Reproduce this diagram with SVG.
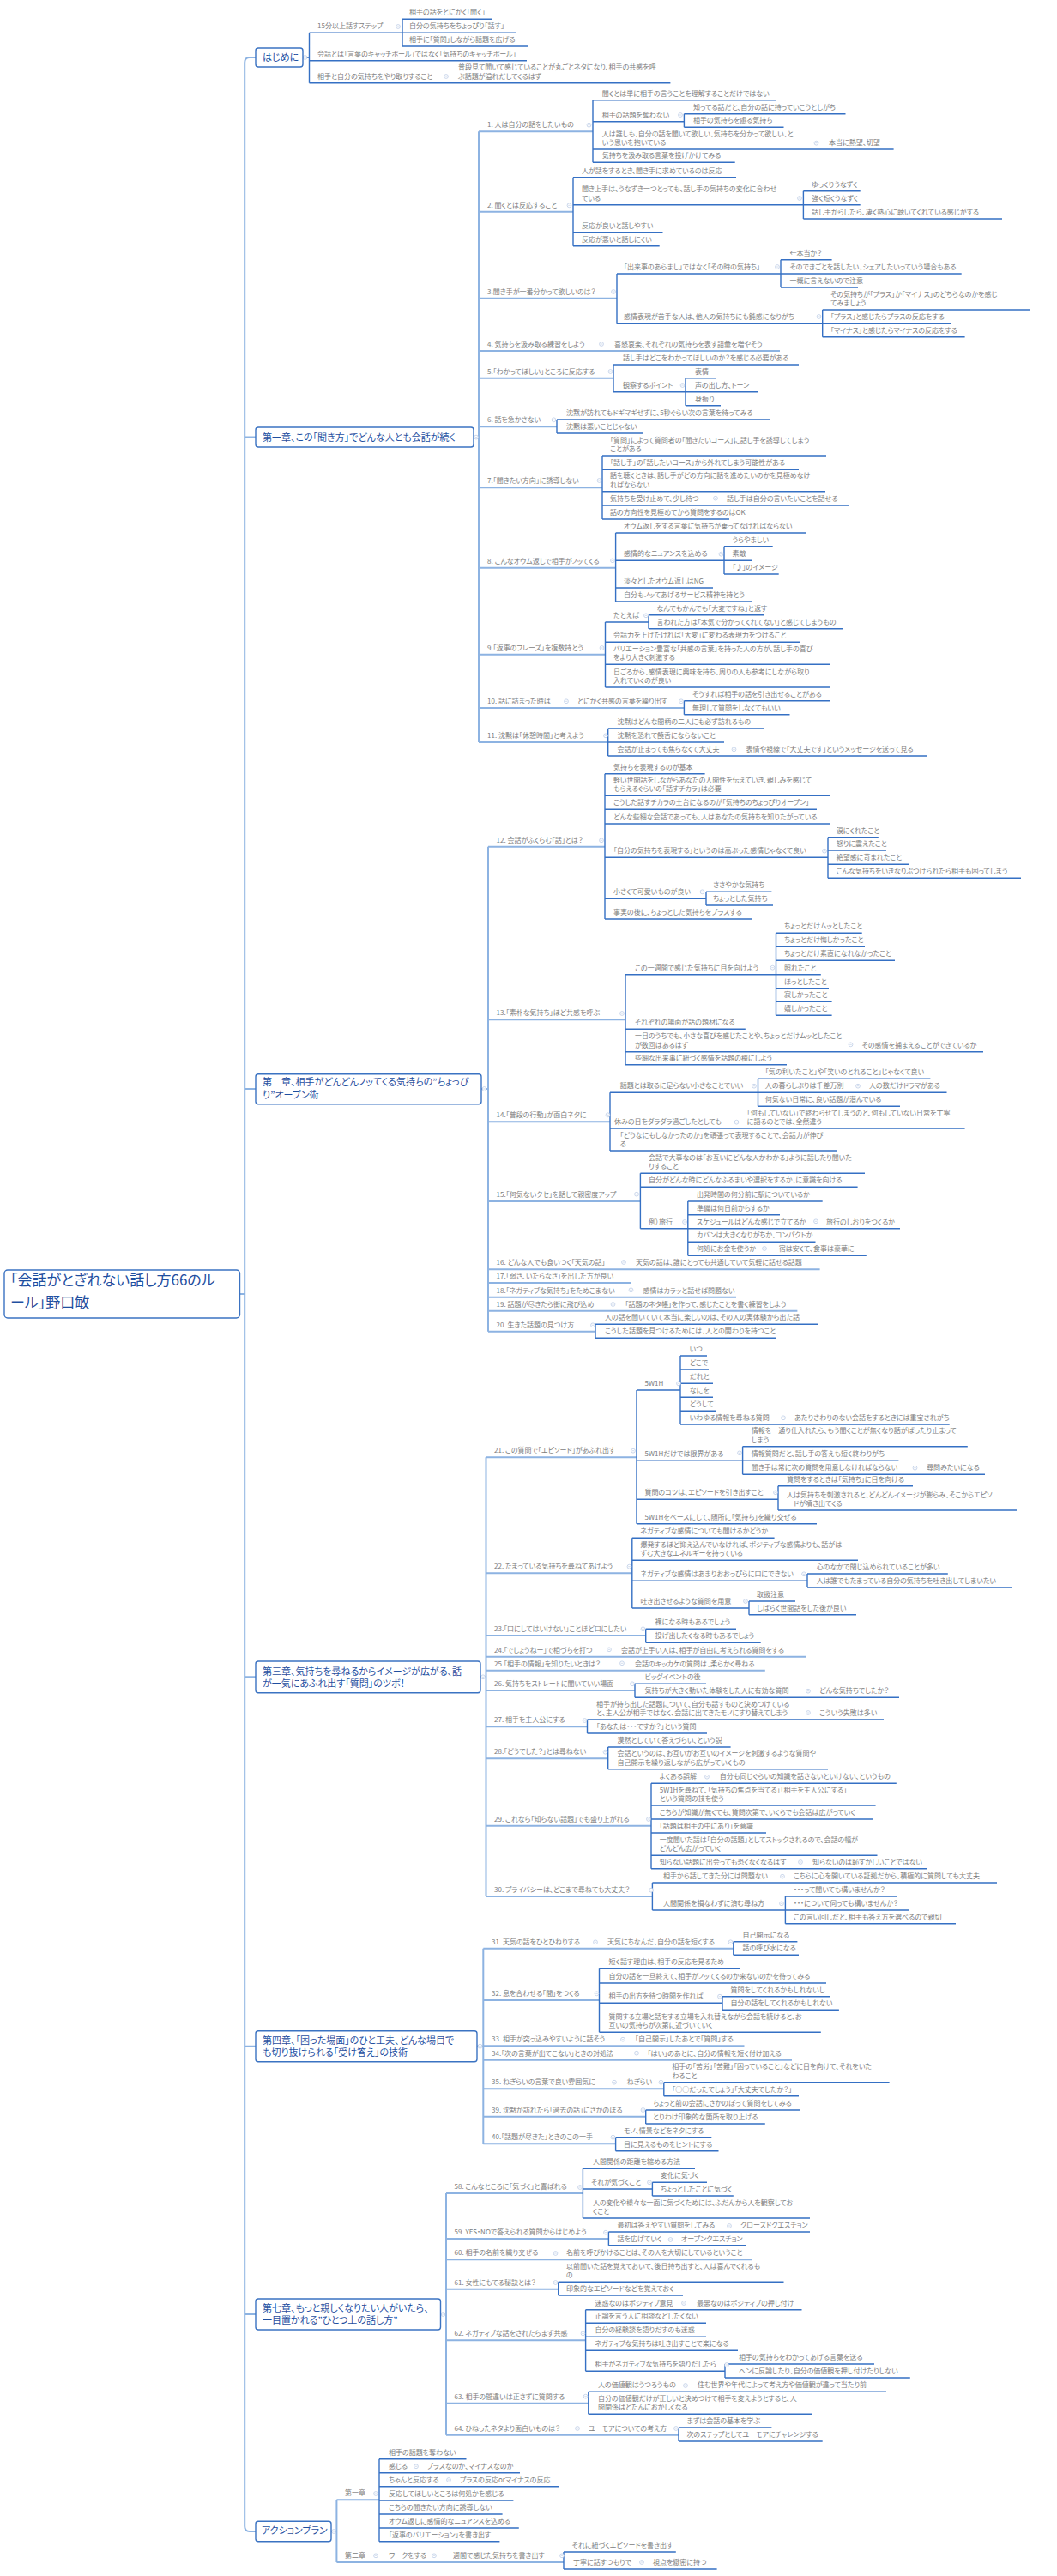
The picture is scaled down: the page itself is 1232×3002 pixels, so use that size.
<svg xmlns="http://www.w3.org/2000/svg" xmlns:xlink="http://www.w3.org/1999/xlink" width="1232" height="3002" viewBox="0 0 1232 3002">
<style>
text{font-family:"Noto Sans CJK JP","Noto Sans",sans-serif;font-feature-settings:"palt" 1}
.t{font-size:8px;fill:#7d7d7d}
.c{font-size:11px;fill:#1f4f9f}
.r{font-size:17px;fill:#1f4f9f}
.bx{fill:#fff;stroke:#3b73c2;stroke-width:1.4}
.l1{fill:none;stroke:#8db3e2;stroke-width:2}
.l2{fill:none;stroke:#3570c4;stroke-width:1.4}
</style>
<defs>
<g id="m"><circle r="2.4" fill="#fff" stroke="#b4c6e2" stroke-width="0.7"/><path d="M-1.3,0H1.3" stroke="#b4c6e2" stroke-width="0.6"/></g>
</defs>
<rect width="1232" height="3002" fill="#fff"/>
<g id="connectors">
<path class="l1" d="M298,67H291Q285.2,67 285.2,73V2944Q285.2,2950 291,2950H298M285.2,509.6H298M285.2,1269H298M279.5,1508H285.2M285.2,1954.3H298M285.2,2384.7H298M285.2,2697H298
M552,509.6H558M558,153.3V865M558,153.3H691M558,246.7H668M558,347.7H719M558,409H909M558,440.7H715M558,497.3H649M558,568.3H702M558,661.7H717.6M558,762.7H705.5M558,825H797.4M558,865H708.7
M561,1269H569M569,986.7V1551.7M569,986.7H705M569,1188.3H729M569,1307.3H711M569,1400H746.4M569,1479.3H955.6M569,1495H735M569,1511.7H858M569,1527.7H929.4M569,1551.7H694
M560,1954.3H566.5M566.5,1698.3V2210M566.5,1698.3H742M566.5,1833.3H736.8M566.5,1906H752.7M566.5,1930.7H939M566.5,1946.7H891.8M566.5,1970H740M566.5,2012.3H684.5M566.5,2049.3H708.7M566.5,2127.7H759M566.5,2210H760.4
M556,2384.7H563.3M563.3,2270.7V2498.3M563.3,2270.7H854.8M563.3,2331H698.5M563.3,2384.3H867.5M563.3,2400.7H923M563.3,2434.3H773.8M563.3,2466.7H752.7M563.3,2498.3H717.6
M513.5,2697H520M520,2556V2837.7M520,2556H679.4M520,2609H709.4M520,2633.3H876M520,2667.7H650.7M520,2727.3H682.6M520,2800.7H685.8M520,2837.7H791
M386,2950H392.4M392.4,2913.3V2986M392.4,2913.3H442M392.4,2986H657"/>
<path class="l2" d="M352.8,67H360.5M360.5,38.3V96.7M360.5,38.3H469M469,22.3V54M469,22.3H574M469,38.3H601.6M469,54H615.6M360.5,70.7H614M360.5,96.7H781.4
M691,116.7V189.3M691,116.7H904.5M691,141.7H797.4M797.4,132.7V148.3M797.4,132.7H985.5M797.4,148.3H913.5M691,174H1041.6M691,189.3H856.7
M668,206.7V286.7M668,206.7H858M668,238.7H936.4M936.4,222.7V255M936.4,222.7H1002.7M936.4,238.7H1002.7M936.4,255H1168M668,270.7H772.5M668,286.7H768.7
M719,319V376.7M719,319H910M910,302.7V335M910,302.7H969.6M910,319H1120.7M910,335H1000M719,376.7H958.7M958.7,361V392.7M958.7,361H1200M958.7,376.7H1108.6M958.7,392.7H1124.6
M715,425V456.7M715,425H931M715,456.7H799M799,440.7V472.7M799,440.7H834.4M799,456.7H883.5M799,472.7H840
M649,489V505M649,489H897.5M649,505H749.5
M702,531V605M702,531H963M702,547.3H931M702,572.7H962M702,589H989.4M702,605H850
M717.6,621V701M717.6,621H939M717.6,653.3H844M844,636.7V669M844,636.7H900.7M844,653.3H877M844,669H907.7M717.6,685H831M717.6,701H876
M705.5,725V801M705.5,725H756M756,716.7V732.7M756,716.7H890M756,732.7H982M705.5,748.3H933M705.5,774.3H968M705.5,801H968
M797.4,816.7V832.7M797.4,816.7H968M797.4,832.7H920.5
M708.7,849V881M708.7,849H891M708.7,865H844M708.7,881H1081
M705,901.7V1071M705,901.7H821.6M705,927.3H968M705,943.3H952M705,960H968M705,999.3H965M965,975.7V1023.3M965,975.7H1023.8M965,991H1033M965,1007.3H1059M965,1023.3H1190M705,1047.3H823M823,1039.3V1055M823,1039.3H899.4M823,1055H901M705,1071H877
M729,1135.7V1240.7M729,1135.7H904.5M904.5,1087.3V1183.3M904.5,1087.3H1004.7M904.5,1103.3H1008M904.5,1119.3H1043M904.5,1135.7H956.8M904.5,1151.7H966M904.5,1167.3H969.6M904.5,1183.3H969.6M729,1199.3H868.8M729,1225.7H1146M729,1240.7H917
M711,1273.3V1341M711,1273.3H883.5M883.5,1257.3V1289.3M883.5,1257.3H1084.4M883.5,1273.3H1103.5M883.5,1289.3H1049M711,1315H1124.6M711,1341H976
M746.4,1367.3V1431.7M746.4,1367.3H1008M746.4,1383.3H999.6M746.4,1431.7H801.8M801.8,1400V1463.3M801.8,1400H958.7M801.8,1415.7H909M801.8,1431.7H1049M801.8,1447.3H950.5M801.8,1463.3H1009.8
M694,1543.3V1559.3M694,1543.3H953.6M694,1559.3H904.5
M742,1620V1775.7M742,1620H793M793,1580V1660M793,1580H824M793,1596H826M793,1612.3H831M793,1628.3H831M793,1644.3H834.4M793,1660H1106.7M742,1701.7H865.6M865.6,1685.7V1718.3M865.6,1685.7H1127.8M865.6,1701.7H1047.4M865.6,1718.3H1148M742,1747.3H907M907,1731.7V1760M907,1731.7H1064M907,1760H1185M742,1775.7H952
M736.8,1792.3V1874M736.8,1792.3H902.6M736.8,1818.3H1000M736.8,1842.3H941M941,1834V1850M941,1834H1104.8M941,1850H1180M736.8,1874H873M873,1866V1881.7M873,1866H927M873,1881.7H998
M752.7,1898.3V1914.3M752.7,1898.3H858M752.7,1914.3H886.7
M740,1962.3V1978.3M740,1962.3H823M740,1978.3H1048
M684.5,2004V2020M684.5,2004H1030M684.5,2020H824
M708.7,2036V2061.7M708.7,2036H851.6M708.7,2061.7H965
M759,2078.3V2177.7M759,2078.3H1044.8M759,2104H1020.6M759,2120H1017.4M759,2136H893M759,2162.3H1022.5M759,2177.7H1081
M760.4,2194V2226M760.4,2194H1162M760.4,2226H915.4M915.4,2210V2241.7M915.4,2210H1046M915.4,2226H1059M915.4,2241.7H1114
M854.8,2262.7V2278.3M854.8,2262.7H929.4M854.8,2278.3H931
M698.5,2294.3V2368.3M698.5,2294.3H862.4M698.5,2311H963M698.5,2334.3H842M842,2326.7V2342.3M842,2326.7H968M842,2342.3H977.9M698.5,2368.3H956.8
M773.8,2426.7V2442.7M773.8,2426.7H1036.6M773.8,2442.7H931
M752.7,2459V2475M752.7,2459H933M752.7,2475H891.8
M717.6,2490.7V2506.7M717.6,2490.7H829.3M717.6,2506.7H837.5
M679.4,2527.3V2585M679.4,2527.3H810M679.4,2551H760.4M760.4,2543.3V2559M760.4,2543.3H824M760.4,2559H854.8M679.4,2585H944
M709.4,2601V2616.7M709.4,2601H944M709.4,2616.7H869.5
M650.7,2659.3V2675M650.7,2659.3H913.5M650.7,2675H796
M682.6,2691.7V2763.3M682.6,2691.7H934.5M682.6,2707.3H823M682.6,2723.3H823M682.6,2739.3H860M682.6,2763.3H845M845,2755V2771M845,2755H1019M845,2771H1060.8
M685.8,2787.3V2813.3M685.8,2787.3H1033M685.8,2813.3H946
M791,2829V2845M791,2829H899.4M791,2845H958.7
M442,2865.7V2961.7M442,2865.7H543.5M442,2881.7H606M442,2897.7H652M442,2914H598.4M442,2930H585.6M442,2946H604.8M442,2961.7H582.4
M657,2974V2994M657,2974H787.8M657,2994H835.6"/>
</g>
<g id="markers">
<use href="#m" x="355.5" y="67"/><use href="#m" x="464" y="31"/><use href="#m" x="520" y="89"/>
<use href="#m" x="555" y="509.6"/><use href="#m" x="686.5" y="145.7"/><use href="#m" x="793" y="134"/><use href="#m" x="951.5" y="166.7"/><use href="#m" x="663.5" y="239.3"/><use href="#m" x="932" y="231"/><use href="#m" x="715" y="340"/><use href="#m" x="906" y="311"/><use href="#m" x="954.5" y="369"/><use href="#m" x="701" y="401"/><use href="#m" x="711.5" y="433"/><use href="#m" x="795.5" y="449"/><use href="#m" x="645.5" y="489.3"/><use href="#m" x="698.5" y="560"/><use href="#m" x="834" y="580.7"/><use href="#m" x="714" y="653.3"/><use href="#m" x="840.5" y="645.7"/><use href="#m" x="701.5" y="755"/><use href="#m" x="753" y="717.3"/><use href="#m" x="660" y="817.3"/><use href="#m" x="794" y="817.3"/><use href="#m" x="706" y="857.3"/><use href="#m" x="855.5" y="873.3"/>
<use href="#m" x="564.5" y="1269"/><use href="#m" x="701" y="979.3"/><use href="#m" x="961" y="991.7"/><use href="#m" x="818.5" y="1039.3"/><use href="#m" x="725" y="1181"/><use href="#m" x="900.5" y="1127.7"/><use href="#m" x="991.5" y="1217.3"/><use href="#m" x="708.5" y="1299.3"/><use href="#m" x="879" y="1265.7"/><use href="#m" x="1000" y="1265.7"/><use href="#m" x="858.5" y="1307.7"/><use href="#m" x="742" y="1391.7"/><use href="#m" x="798" y="1424"/><use href="#m" x="951" y="1423.3"/><use href="#m" x="891" y="1455"/><use href="#m" x="727" y="1471"/><use href="#m" x="735.5" y="1503.3"/><use href="#m" x="714.5" y="1520"/><use href="#m" x="691" y="1544.3"/>
<use href="#m" x="563" y="1954.3"/><use href="#m" x="738" y="1690.7"/><use href="#m" x="791" y="1612.3"/><use href="#m" x="913" y="1652.3"/><use href="#m" x="862" y="1693.3"/><use href="#m" x="1066.5" y="1710.7"/><use href="#m" x="904" y="1739.3"/><use href="#m" x="733.5" y="1825.7"/><use href="#m" x="937" y="1834.3"/><use href="#m" x="869" y="1866"/><use href="#m" x="749.5" y="1898.3"/><use href="#m" x="710" y="1922.3"/><use href="#m" x="725" y="1938.3"/><use href="#m" x="737" y="1962.3"/><use href="#m" x="942" y="1970.7"/><use href="#m" x="681.5" y="2005"/><use href="#m" x="942" y="1996"/><use href="#m" x="705.5" y="2041.7"/><use href="#m" x="756" y="2120"/><use href="#m" x="824" y="2070.7"/><use href="#m" x="933" y="2170"/><use href="#m" x="759" y="2202.7"/><use href="#m" x="912" y="2186.7"/><use href="#m" x="911" y="2218.3"/>
<use href="#m" x="559.5" y="2384.7"/><use href="#m" x="694" y="2263.3"/><use href="#m" x="851.5" y="2263.3"/><use href="#m" x="695.5" y="2323.3"/><use href="#m" x="839" y="2326.7"/><use href="#m" x="726" y="2376.7"/><use href="#m" x="742" y="2392.7"/><use href="#m" x="716" y="2426.7"/><use href="#m" x="770.5" y="2426.7"/><use href="#m" x="749.5" y="2459"/><use href="#m" x="714.5" y="2490.7"/>
<use href="#m" x="516.5" y="2697"/><use href="#m" x="676" y="2549"/><use href="#m" x="757" y="2543.3"/><use href="#m" x="706" y="2601.7"/><use href="#m" x="850" y="2594"/><use href="#m" x="781.5" y="2610"/><use href="#m" x="647.5" y="2626"/><use href="#m" x="647.5" y="2660"/><use href="#m" x="679.5" y="2719.3"/><use href="#m" x="797" y="2684"/><use href="#m" x="847" y="2756"/><use href="#m" x="682.6" y="2792.7"/><use href="#m" x="799" y="2780"/><use href="#m" x="673" y="2830"/><use href="#m" x="788" y="2830"/>
<use href="#m" x="389" y="2950"/><use href="#m" x="438" y="2906"/><use href="#m" x="485" y="2874.3"/><use href="#m" x="523" y="2890"/><use href="#m" x="438" y="2978.3"/><use href="#m" x="506" y="2978.3"/><use href="#m" x="655" y="2978.3"/><use href="#m" x="748" y="2986"/>
</g>
<g id="root"><rect class="bx" x="5" y="1480" width="274.5" height="56" rx="4"/><text class="r" x="12" y="1497.7">「会話がとぎれない話し方66のル</text><text class="r" x="12" y="1524.3">ール」野口敏</text></g>
<g id="ch0"><rect class="bx" x="298" y="56" width="55" height="22" rx="3"/><text class="c" x="306" y="71">はじめに</text></g>
<g id="ch1"><rect class="bx" x="298" y="498" width="254" height="23" rx="3"/><text class="c" x="306" y="513.6">第一章、この「聞き方」でどんな人とも会話が続く</text></g>
<g id="ch2"><rect class="bx" x="298" y="1251.7" width="263" height="35" rx="3"/><text class="c" x="306" y="1265">第二章、相手がどんどんノッてくる気持ちの”ちょっぴ</text><text class="c" x="306" y="1279.7">り”オープン術</text></g>
<g id="ch3"><rect class="bx" x="298" y="1936" width="262" height="36.7" rx="3"/><text class="c" x="306" y="1951.7">第三章、気持ちを尋ねるからイメージが広がる、話</text><text class="c" x="306" y="1966.3">が一気にあふれ出す「質問」のツボ！</text></g>
<g id="ch4"><rect class="bx" x="298" y="2366.7" width="258" height="36" rx="3"/><text class="c" x="306" y="2381.7">第四章、「困った場面」のひと工夫、どんな場目で</text><text class="c" x="306" y="2396.3">も切り抜けられる「受け答え」の技術</text></g>
<g id="ch7"><rect class="bx" x="298" y="2679" width="215.5" height="36" rx="3"/><text class="c" x="306" y="2694">第七章、もっと親しくなりたい人がいたら、</text><text class="c" x="306" y="2708.3">一目置かれる”ひとつ上の話し方”</text></g>
<g id="ch8"><rect class="bx" x="298" y="2938.3" width="88" height="23.4" rx="3"/><text class="c" x="305" y="2953.3">アクションプラン</text></g>
<g class="t">
<g id="h1"><text x="370" y="33.3">15分以上話すステップ</text></g>
<g id="h1a"><text x="477" y="17.3">相手の話をとにかく「聞く」</text></g>
<g id="h1b"><text x="477" y="33.3">自分の気持ちをちょっぴり「話す」</text></g>
<g id="h1c"><text x="477" y="49">相手に「質問」しながら話題を広げる</text></g>
<g id="h2"><text x="370" y="65.7">会話とは「言葉のキャッチボール」ではなく「気持ちのキャッチボール」</text></g>
<g id="h3"><text x="370" y="91.7">相手と自分の気持ちをやり取りすること</text></g>
<g id="h3a"><text x="534" y="81.4">普段見て聞いて感じていることが丸ごとネタになり、相手の共感を呼</text><text x="534" y="91.7">ぶ話題が溢れだしてくるはず</text></g>
<g id="a1"><text x="568" y="148.3">1. 人は自分の話をしたいもの</text></g>
<g id="a1a"><text x="701.7" y="111.7">聞くとは単に相手の言うことを理解することだけではない</text></g>
<g id="a1b"><text x="701.7" y="136.7">相手の話題を奪わない</text></g>
<g id="a1b1"><text x="808" y="127.7">知ってる話だと、自分の話に持っていこうとしがち</text></g>
<g id="a1b2"><text x="808" y="143.3">相手の気持ちを慮る気持ち</text></g>
<g id="a1c"><text x="701.7" y="158.7">人は誰しも、自分の話を聞いて欲しい、気持ちを分かって欲しい、と</text><text x="701.7" y="169">いう思いを抱いている</text></g>
<g id="a1c1"><text x="966" y="169">本当に熱望、切望</text></g>
<g id="a1d"><text x="701.7" y="184.3">気持ちを汲み取る言葉を投げかけてみる</text></g>
<g id="a2"><text x="568" y="241.7">2. 聞くとは反応すること</text></g>
<g id="a2a"><text x="678" y="201.7">人が話をするとき、聞き手に求めているのは反応</text></g>
<g id="a2b"><text x="678" y="223.4">聞き上手は、うなずき一つとっても、話し手の気持ちの変化に合わせ</text><text x="678" y="233.7">ている</text></g>
<g id="a2b1"><text x="946" y="217.7">ゆっくりうなずく</text></g>
<g id="a2b2"><text x="946" y="233.7">強く短くうなずく</text></g>
<g id="a2b3"><text x="946" y="250">話し手からしたら、凄く熱心に聴いてくれている感じがする</text></g>
<g id="a2c"><text x="678" y="265.7">反応が良いと話しやすい</text></g>
<g id="a2d"><text x="678" y="281.7">反応が悪いと話しにくい</text></g>
<g id="a3"><text x="568" y="342.7">3.聞き手が一番分かって欲しいのは？</text></g>
<g id="a3a"><text x="727" y="314">「出来事のあらまし」ではなく「その時の気持ち」</text></g>
<g id="a3a1"><text x="920.5" y="297.7">←本当か？</text></g>
<g id="a3a2"><text x="920.5" y="314">そのできごとを話したい、シェアしたいっていう場合もある</text></g>
<g id="a3a3"><text x="920.5" y="330">一概に言えないので注意</text></g>
<g id="a3b"><text x="727" y="371.7">感情表現が苦手な人は、他人の気持ちにも鈍感になりがち</text></g>
<g id="a3b1"><text x="968" y="345.7">その気持ちが「プラス」か「マイナス」のどちらなのかを感じ</text><text x="968" y="356">てみましょう</text></g>
<g id="a3b2"><text x="968" y="371.7">「プラス」と感じたらプラスの反応をする</text></g>
<g id="a3b3"><text x="968" y="387.7">「マイナス」と感じたらマイナスの反応をする</text></g>
<g id="a4"><text x="568" y="404">4. 気持ちを汲み取る練習をしよう</text></g>
<g id="a4a"><text x="716" y="404">喜怒哀楽、それぞれの気持ちを表す語彙を増やそう</text></g>
<g id="a5"><text x="568" y="435.7">5.「わかってほしい」ところに反応する</text></g>
<g id="a5a"><text x="726" y="420">話し手はどこをわかってほしいのか？を感じる必要がある</text></g>
<g id="a5b"><text x="726" y="451.7">観察するポイント</text></g>
<g id="a5b1"><text x="810" y="435.7">表情</text></g>
<g id="a5b2"><text x="810" y="451.7">声の出し方、トーン</text></g>
<g id="a5b3"><text x="810" y="467.7">身振り</text></g>
<g id="a6"><text x="568" y="492.3">6. 話を急かさない</text></g>
<g id="a6a"><text x="660" y="484">沈黙が訪れてもドギマギせずに、5秒ぐらい次の言葉を待ってみる</text></g>
<g id="a6b"><text x="660" y="500">沈黙は悪いことじゃない</text></g>
<g id="a7"><text x="568" y="563.3">7.「聞きたい方向」に誘導しない</text></g>
<g id="a7a"><text x="711" y="515.7">「質問」によって質問者の「聞きたいコース」に話し手を誘導してしまう</text><text x="711" y="526">ことがある</text></g>
<g id="a7b"><text x="711" y="542.3">「話し手」の「話したいコース」から外れてしまう可能性がある</text></g>
<g id="a7c"><text x="711" y="557.4">話を聴くときは、話し手がどの方向に話を進めたいのかを見極めなけ</text><text x="711" y="567.7">ればならない</text></g>
<g id="a7d"><text x="711" y="584">気持ちを受け止めて、少し待つ</text></g>
<g id="a7d1"><text x="847" y="584">話し手は自分の言いたいことを話せる</text></g>
<g id="a7e"><text x="711" y="600">話の方向性を見極めてから質問をするのはOK</text></g>
<g id="a8"><text x="568" y="656.7">8. こんなオウム返しで相手がノッてくる</text></g>
<g id="a8a"><text x="727" y="616">オウム返しをする言葉に気持ちが乗ってなければならない</text></g>
<g id="a8b"><text x="727" y="648.3">感情的なニュアンスを込める</text></g>
<g id="a8b1"><text x="853.5" y="631.7">うらやましい</text></g>
<g id="a8b2"><text x="853.5" y="648.3">素敵</text></g>
<g id="a8b3"><text x="853.5" y="664">「♪」のイメージ</text></g>
<g id="a8c"><text x="727" y="680">淡々としたオウム返しはNG</text></g>
<g id="a8d"><text x="727" y="696">自分もノッてあげるサービス精神を持とう</text></g>
<g id="a9"><text x="568" y="757.7">9.「返事のフレーズ」を複数持とう</text></g>
<g id="a9a"><text x="715" y="720">たとえば</text></g>
<g id="a9a1"><text x="765.5" y="711.7">なんでもかんでも「大変ですね」と返す</text></g>
<g id="a9a2"><text x="765.5" y="727.7">言われた方は「本気で分かってくれてない」と感じてしまうもの</text></g>
<g id="a9b"><text x="715" y="743.3">会話力を上げたければ「大変」に変わる表現力をつけること</text></g>
<g id="a9c"><text x="715" y="759">バリエーション豊富な「共感の言葉」を持った人の方が、話し手の喜び</text><text x="715" y="769.3">をより大きく刺激する</text></g>
<g id="a9d"><text x="715" y="785.7">日ごろから、感情表現に興味を持ち、周りの人も参考にしながら取り</text><text x="715" y="796">入れていくのが良い</text></g>
<g id="a10"><text x="568" y="820">10. 話に詰まった時は</text></g>
<g id="a10a"><text x="673" y="820">とにかく共感の言葉を繰り出す</text></g>
<g id="a10a1"><text x="807" y="811.7">そうすれば相手の話を引き出せることがある</text></g>
<g id="a10a2"><text x="807" y="827.7">無理して質問をしなくてもいい</text></g>
<g id="a11"><text x="568" y="860">11. 沈黙は「休憩時間」と考えよう</text></g>
<g id="a11a"><text x="719.6" y="844">沈黙はどんな間柄の二人にも必ず訪れるもの</text></g>
<g id="a11b"><text x="719.6" y="860">沈黙を恐れて饒舌にならないこと</text></g>
<g id="a11c"><text x="719.6" y="876">会話が止まっても焦らなくて大丈夫</text></g>
<g id="a11c1"><text x="869.5" y="876">表情や視線で「大丈夫です」というメッセージを送って見る</text></g>
<g id="b12"><text x="578.6" y="981.7">12. 会話がふくらむ「話」とは？</text></g>
<g id="b12a"><text x="715" y="896.7">気持ちを表現するのが基本</text></g>
<g id="b12b"><text x="715" y="912">軽い世間話をしながらあなたの人間性を伝えていき、親しみを感じて</text><text x="715" y="922.3">もらえるぐらいの「話すチカラ」は必要</text></g>
<g id="b12c"><text x="715" y="938.3">こうした話すチカラの土台になるのが「気持ちのちょっぴりオープン」</text></g>
<g id="b12d"><text x="715" y="955">どんな些細な会話であっても、人はあなたの気持ちを知りたがっている</text></g>
<g id="b12e"><text x="715" y="994.3">「自分の気持ちを表現する」というのは高ぶった感情じゃなくて良い</text></g>
<g id="b12e1"><text x="974.7" y="970.7">涙にくれたこと</text></g>
<g id="b12e2"><text x="974.7" y="986">怒りに震えたこと</text></g>
<g id="b12e3"><text x="974.7" y="1002.3">絶望感に苛まれたこと</text></g>
<g id="b12e4"><text x="974.7" y="1018.3">こんな気持ちをいきなりぶつけられたら相手も困ってしまう</text></g>
<g id="b12f"><text x="715" y="1042.3">小さくて可愛いものが良い</text></g>
<g id="b12f1"><text x="831" y="1034.3">ささやかな気持ち</text></g>
<g id="b12f2"><text x="831" y="1050">ちょっとした気持ち</text></g>
<g id="b12g"><text x="715" y="1066">事実の後に、ちょっとした気持ちをプラスする</text></g>
<g id="b13"><text x="578.6" y="1183.3">13.「素朴な気持ち」ほど共感を呼ぶ</text></g>
<g id="b13a"><text x="740" y="1130.7">この一週間で感じた気持ちに目を向けよう</text></g>
<g id="b13a1"><text x="914" y="1082.3">ちょっとだけムッとしたこと</text></g>
<g id="b13a2"><text x="914" y="1098.3">ちょっとだけ悔しかったこと</text></g>
<g id="b13a3"><text x="914" y="1114.3">ちょっとだけ素直になれなかったこと</text></g>
<g id="b13a4"><text x="914" y="1130.7">照れたこと</text></g>
<g id="b13a5"><text x="914" y="1146.7">ほっとしたこと</text></g>
<g id="b13a6"><text x="914" y="1162.3">寂しかったこと</text></g>
<g id="b13a7"><text x="914" y="1178.3">嬉しかったこと</text></g>
<g id="b13b"><text x="740" y="1194.3">それぞれの場面が話の題材になる</text></g>
<g id="b13c"><text x="740" y="1210.4">一日のうちでも、小さな喜びを感じたことや、ちょっとだけムッとしたこと</text><text x="740" y="1220.7">が数回はあるはず</text></g>
<g id="b13c1"><text x="1004.6" y="1220.7">その感情を捕まえることができているか</text></g>
<g id="b13d"><text x="740" y="1235.7">些細な出来事に紐づく感情を話題の種にしよう</text></g>
<g id="b14"><text x="578.6" y="1302.3">14.「普段の行動」が面白ネタに</text></g>
<g id="b14a"><text x="722.7" y="1268.3">話題とは取るに足らない小さなことでいい</text></g>
<g id="b14a1"><text x="891.8" y="1252.3">「気の利いたこと」や「笑いのとれること」じゃなくて良い</text></g>
<g id="b14a2"><text x="891.8" y="1268.3">人の暮らしぶりは千差万別</text></g>
<g id="b14a2a"><text x="1013" y="1268.3">人の数だけドラマがある</text></g>
<g id="b14a3"><text x="891.8" y="1284.3">何気ない日常に、良い話題が潜んでいる</text></g>
<g id="b14b"><text x="716" y="1310">休みの日をダラダラ過ごしたとしても</text></g>
<g id="b14b1"><text x="870.7" y="1299.7">「何もしていない」で終わらせてしまうのと、何もしていない日常を丁寧</text><text x="870.7" y="1310">に語るのとでは、全然違う</text></g>
<g id="b14c"><text x="722.7" y="1325.7">「どうなにもしなかったのか」を頑張って表現することで、会話力が伸び</text><text x="722.7" y="1336">る</text></g>
<g id="b15"><text x="578.6" y="1395">15.「何気ないクセ」を話して親密度アップ</text></g>
<g id="b15a"><text x="756" y="1352">会話で大事なのは「お互いにどんな人かわかる」ように話したり聞いた</text><text x="756" y="1362.3">りすること</text></g>
<g id="b15b"><text x="756" y="1378.3">自分がどんな時にどんなふるまいや選択をするか、に意識を向ける</text></g>
<g id="b15c"><text x="756" y="1426.7">例）旅行</text></g>
<g id="b15c1"><text x="812" y="1395">出発時間の何分前に駅についているか</text></g>
<g id="b15c2"><text x="812" y="1410.7">準備は何日前からするか</text></g>
<g id="b15c3"><text x="812" y="1426.7">スケジュールはどんな感じで立てるか</text></g>
<g id="b15c3a"><text x="963" y="1426.7">旅行のしおりをつくるか</text></g>
<g id="b15c4"><text x="812" y="1442.3">カバンは大きくなりがちか、コンパクトか</text></g>
<g id="b15c5"><text x="812" y="1458.3">何処にお金を使うか</text></g>
<g id="b15c5a"><text x="907.7" y="1458.3">宿は安くて、食事は豪華に</text></g>
<g id="b16"><text x="578.6" y="1474.3">16. どんな人でも食いつく「天気の話」</text></g>
<g id="b16a"><text x="741" y="1474.3">天気の話は、誰にとっても共通していて気軽に話せる話題</text></g>
<g id="b17"><text x="578.6" y="1490">17.「弱さ、いたらなさ」を出した方が良い</text></g>
<g id="b18"><text x="578.6" y="1506.7">18.「ネガティブな気持ち」をためこまない</text></g>
<g id="b18a"><text x="749.5" y="1506.7">感情はカラッと話せば問題ない</text></g>
<g id="b19"><text x="578.6" y="1522.7">19. 話題が尽きたら街に飛び込め</text></g>
<g id="b19a"><text x="728.5" y="1522.7">「話題のネタ帳」を作って、感じたことを書く練習をしよう</text></g>
<g id="b20"><text x="578.6" y="1546.7">20. 生きた話題の見つけ方</text></g>
<g id="b20a"><text x="705" y="1538.3">人の話を聞いていて本当に楽しいのは、その人の実体験から出た話</text></g>
<g id="b20b"><text x="705" y="1554.3">こうした話題を見つけるためには、人との関わりを持つこと</text></g>
<g id="c21"><text x="576" y="1693.3">21. この質問で「エピソード」があふれ出す</text></g>
<g id="c21a"><text x="751.5" y="1615">5W1H</text></g>
<g id="c21a1"><text x="803.7" y="1575">いつ</text></g>
<g id="c21a2"><text x="803.7" y="1591">どこで</text></g>
<g id="c21a3"><text x="803.7" y="1607.3">だれと</text></g>
<g id="c21a4"><text x="803.7" y="1623.3">なにを</text></g>
<g id="c21a5"><text x="803.7" y="1639.3">どうして</text></g>
<g id="c21a6"><text x="803.7" y="1655">いわゆる情報を尋ねる質問</text></g>
<g id="c21a6a"><text x="926" y="1655">あたりさわりのない会話をするときには重宝されがち</text></g>
<g id="c21b"><text x="751.5" y="1696.7">5W1Hだけでは限界がある</text></g>
<g id="c21b1"><text x="875.8" y="1670.4">情報を一通り仕入れたら、もう聞くことが無くなり話がぱったり止まって</text><text x="875.8" y="1680.7">しまう</text></g>
<g id="c21b2"><text x="875.8" y="1696.7">情報質問だと、話し手の答えも短く終わりがち</text></g>
<g id="c21b3"><text x="875.8" y="1713.3">聞き手は常に次の質問を用意しなければならない</text></g>
<g id="c21b3a"><text x="1080" y="1713.3">尋問みたいになる</text></g>
<g id="c21c"><text x="751.5" y="1742.3">質問のコツは、エピソードを引き出すこと</text></g>
<g id="c21c1"><text x="917" y="1726.7">質問をするときは「気持ち」に目を向ける</text></g>
<g id="c21c2"><text x="917" y="1744.7">人は気持ちを刺激されると、どんどんイメージが膨らみ、そこからエピソ</text><text x="917" y="1755">ードが噴き出てくる</text></g>
<g id="c21d"><text x="751.5" y="1770.7">5W1Hをベースにして、随所に「気持ち」を織り交ぜる</text></g>
<g id="c22"><text x="576" y="1828.3">22. たまっている気持ちを尋ねてあげよう</text></g>
<g id="c22a"><text x="746.4" y="1787.3">ネガティブな感情についても聞けるかどうか</text></g>
<g id="c22b"><text x="746.4" y="1803">爆発するほど抑え込んでいなければ、ポジティブな感情よりも、話がは</text><text x="746.4" y="1813.3">ずむ大きなエネルギーを持っている</text></g>
<g id="c22c"><text x="746.4" y="1837.3">ネガティブな感情はあまりおおっぴらに口にできない</text></g>
<g id="c22c1"><text x="951.7" y="1829">心のなかで閉じ込められていることが多い</text></g>
<g id="c22c2"><text x="951.7" y="1845">人は誰でもたまっている自分の気持ちを吐き出してしまいたい</text></g>
<g id="c22d"><text x="746.4" y="1869">吐き出させるような質問を用意</text></g>
<g id="c22d1"><text x="882" y="1861">取扱注意</text></g>
<g id="c22d2"><text x="882" y="1876.7">しばらく世間話をした後が良い</text></g>
<g id="c23"><text x="576" y="1901">23.「口にしてはいけない」ことほど口にしたい</text></g>
<g id="c23a"><text x="763.6" y="1893.3">裸になる時もあるでしょう</text></g>
<g id="c23b"><text x="763.6" y="1909.3">投げ出したくなる時もあるでしょう</text></g>
<g id="c24"><text x="576" y="1925.7">24.「でしょうねー」で相づちを打つ</text></g>
<g id="c24a"><text x="724" y="1925.7">会話が上手い人は、相手が自由に考えられる質問をする</text></g>
<g id="c25"><text x="576" y="1941.7">25.「相手の情報」を知りたいときは？</text></g>
<g id="c25a"><text x="740" y="1941.7">会話のキッカケの質問は、柔らかく尋ねる</text></g>
<g id="c26"><text x="576" y="1965">26. 気持ちをストレートに聞いていい場面</text></g>
<g id="c26a"><text x="751.5" y="1957.3">ビッグイベントの後</text></g>
<g id="c26b"><text x="751.5" y="1973.3">気持ちが大きく動いた体験をした人に有効な質問</text></g>
<g id="c26b1"><text x="955" y="1973.3">どんな気持ちでしたか？</text></g>
<g id="c27"><text x="576" y="2007.3">27. 相手を主人公にする</text></g>
<g id="c27a"><text x="695" y="1988.7">相手が持ち出した話題について、自分も話すものと決めつけている</text><text x="695" y="1999">と、主人公が相手ではなく、会話に出てきたモノにすり替えてしまう</text></g>
<g id="c27a1"><text x="955" y="1999">こういう失敗は多い</text></g>
<g id="c27b"><text x="695" y="2015">「あなたは・・・ですか？」という質問</text></g>
<g id="c28"><text x="576" y="2044.3">28.「どうでした？」とは尋ねない</text></g>
<g id="c28a"><text x="719.6" y="2031">漠然としていて答えづらい、という説</text></g>
<g id="c28b"><text x="719.6" y="2046.4">会話というのは、お互いがお互いのイメージを刺激するような質問や</text><text x="719.6" y="2056.7">自己開示を繰り返しながら広がっていくもの</text></g>
<g id="c29"><text x="576" y="2122.7">29. これなら「知らない話題」でも盛り上がれる</text></g>
<g id="c29a"><text x="768.7" y="2073.3">よくある誤解</text></g>
<g id="c29a1"><text x="838.8" y="2073.3">自分も同じぐらいの知識を話さないといけない、というもの</text></g>
<g id="c29b"><text x="768.7" y="2088.7">5W1Hを尋ねて、「気持ちの焦点を当てる」「相手を主人公にする」</text><text x="768.7" y="2099">という質問の技を使う</text></g>
<g id="c29c"><text x="768.7" y="2115">こちらが知識が無くても、質問次第で、いくらでも会話は広がっていく</text></g>
<g id="c29d"><text x="768.7" y="2131">「話題は相手の中にあり」を意識</text></g>
<g id="c29e"><text x="768.7" y="2147">一度聞いた話は「自分の話題」としてストックされるので、会話の幅が</text><text x="768.7" y="2157.3">どんどん広がっていく</text></g>
<g id="c29f"><text x="768.7" y="2172.7">知らない話題に出会っても恐くなくなるはず</text></g>
<g id="c29f1"><text x="947" y="2172.7">知らないのは恥ずかしいことではない</text></g>
<g id="c30"><text x="576" y="2205">30. プライバシーは、どこまで尋ねても大丈夫？</text></g>
<g id="c30a"><text x="773" y="2189">相手から話してきた分には問題ない</text></g>
<g id="c30a1"><text x="925" y="2189">こちらに心を開いている証拠だから、積極的に質問しても大丈夫</text></g>
<g id="c30b"><text x="773" y="2221">人間関係を損なわずに済む尋ね方</text></g>
<g id="c30b1"><text x="925" y="2205">・・・って聞いても構いませんか？</text></g>
<g id="c30b2"><text x="925" y="2221">・・・について伺っても構いませんか？</text></g>
<g id="c30b3"><text x="925" y="2236.7">この言い回しだと、相手も答え方を選べるので親切</text></g>
<g id="d31"><text x="573" y="2265.7">31. 天気の話をひとひねりする</text></g>
<g id="d31a"><text x="708" y="2265.7">天気にちなんだ、自分の話を短くする</text></g>
<g id="d31a1"><text x="865.6" y="2257.7">自己開示になる</text></g>
<g id="d31a2"><text x="865.6" y="2273.3">話の呼び水になる</text></g>
<g id="d32"><text x="573" y="2326">32. 息を合わせる「間」をつくる</text></g>
<g id="d32a"><text x="709.4" y="2289.3">短く話す理由は、相手の反応を見るため</text></g>
<g id="d32b"><text x="709.4" y="2306">自分の話を一旦終えて、相手がノッてくるのか来ないのかを待ってみる</text></g>
<g id="d32c"><text x="709.4" y="2329.3">相手の出方を待つ時間を作れば</text></g>
<g id="d32c1"><text x="851.6" y="2321.7">質問をしてくれるかもしれないし</text></g>
<g id="d32c2"><text x="851.6" y="2337.3">自分の話をしてくれるかもしれない</text></g>
<g id="d32d"><text x="709.4" y="2353">質問する立場と話をする立場を入れ替えながら会話を続けると、お</text><text x="709.4" y="2363.3">互いの気持ちが次第に近づいていく</text></g>
<g id="d33"><text x="573" y="2379.3">33. 相手が突っ込みやすいように話そう</text></g>
<g id="d33a"><text x="740" y="2379.3">「自己開示」したあとで「質問」する</text></g>
<g id="d34"><text x="573" y="2395.7">34.「次の言葉が出てこない」ときの対処法</text></g>
<g id="d34a"><text x="754.6" y="2395.7">「はい」のあとに、自分の情報を短く付け加える</text></g>
<g id="d35"><text x="573" y="2429.3">35. ねぎらいの言葉で良い雰囲気に</text></g>
<g id="d35a"><text x="730.4" y="2429.3">ねぎらい</text></g>
<g id="d35a1"><text x="783.3" y="2411.4">相手の「苦労」「苦難」「困っていること」などに目を向けて、それをいた</text><text x="783.3" y="2421.7">わること</text></g>
<g id="d35a2"><text x="783.3" y="2437.7">「○○だったでしょう」「大丈夫でしたか？」</text></g>
<g id="d39"><text x="573" y="2461.7">39. 沈黙が訪れたら「過去の話」にさかのぼる</text></g>
<g id="d39a"><text x="761" y="2454">ちょっと前の会話にさかのぼって質問をしてみる</text></g>
<g id="d39b"><text x="761" y="2470">とりわけ印象的な箇所を取り上げる</text></g>
<g id="d40"><text x="573" y="2493.3">40.「話題が尽きた」ときのこの一手</text></g>
<g id="d40a"><text x="727" y="2485.7">モノ、情景などをネタにする</text></g>
<g id="d40b"><text x="727" y="2501.7">目に見えるものをヒントにする</text></g>
<g id="e58"><text x="529.5" y="2551">58. こんなところに「気づく」と喜ばれる</text></g>
<g id="e58a"><text x="690.9" y="2522.3">人間関係の距離を縮める方法</text></g>
<g id="e58b"><text x="689" y="2546">それが気づくこと</text></g>
<g id="e58b1"><text x="770" y="2538.3">変化に気づく</text></g>
<g id="e58b2"><text x="770" y="2554">ちょっとしたことに気づく</text></g>
<g id="e58c"><text x="690.9" y="2569.7">人の変化や様々な一面に気づくためには、ふだんから人を観察してお</text><text x="690.9" y="2580">くこと</text></g>
<g id="e59"><text x="529.5" y="2604">59. YES・NOで答えられる質問からはじめよう</text></g>
<g id="e59a"><text x="719.6" y="2596">最初は答えやすい質問をしてみる</text></g>
<g id="e59a1"><text x="863" y="2596">クローズドクエスチョン</text></g>
<g id="e59b"><text x="719.6" y="2611.7">話を広げていく</text></g>
<g id="e59b1"><text x="794" y="2611.7">オープンクエスチョン</text></g>
<g id="e60"><text x="529.5" y="2628.3">60. 相手の名前を織り交ぜる</text></g>
<g id="e60a"><text x="660" y="2628.3">名前を呼びかけることは、その人を大切にしているということ</text></g>
<g id="e61"><text x="529.5" y="2662.7">61. 女性にもてる秘訣とは？</text></g>
<g id="e61a"><text x="660" y="2644">以前聞いた話を覚えておいて、後日持ち出すと、人は喜んでくれるも</text><text x="660" y="2654.3">の</text></g>
<g id="e61b"><text x="660" y="2670">印象的なエピソードなどを覚えておく</text></g>
<g id="e62"><text x="529.5" y="2722.3">62. ネガティブな話をされたらまず共感</text></g>
<g id="e62a"><text x="693.4" y="2686.7">迷惑なのはポジティブ意見</text></g>
<g id="e62a1"><text x="812" y="2686.7">最悪なのはポジティブの押し付け</text></g>
<g id="e62b"><text x="693.4" y="2702.3">正論を言う人に相談などしたくない</text></g>
<g id="e62c"><text x="693.4" y="2718.3">自分の経験談を語りだすのも迷惑</text></g>
<g id="e62d"><text x="693.4" y="2734.3">ネガティブな気持ちは吐き出すことで楽になる</text></g>
<g id="e62e"><text x="693.4" y="2758.3">相手がネガティブな気持ちを語りだしたら</text></g>
<g id="e62e1"><text x="861" y="2750">相手の気持ちをわかってあげる言葉を送る</text></g>
<g id="e62e2"><text x="861" y="2766">ヘンに反論したり、自分の価値観を押し付けたりしない</text></g>
<g id="e63"><text x="529.5" y="2795.7">63. 相手の間違いは正さずに質問する</text></g>
<g id="e63a"><text x="697" y="2782.3">人の価値観はうつろうもの</text></g>
<g id="e63a1"><text x="813" y="2782.3">住む世界や年代によって考え方や価値観が違って当たり前</text></g>
<g id="e63b"><text x="697" y="2798">自分の価値観だけが正しいと決めつけて相手を変えようとすると、人</text><text x="697" y="2808.3">間関係はとたんにおかしくなる</text></g>
<g id="e64"><text x="529.5" y="2832.7">64. ひねったネタより面白いものは？</text></g>
<g id="e64a"><text x="685.8" y="2832.7">ユーモアについての考え方</text></g>
<g id="e64a1"><text x="800.5" y="2824">まずは会話の基本を学ぶ</text></g>
<g id="e64a2"><text x="800.5" y="2840">次のステップとしてユーモアにチャレンジする</text></g>
<g id="f1"><text x="402" y="2908.3">第一章</text></g>
<g id="f1a"><text x="453" y="2860.7">相手の話題を奪わない</text></g>
<g id="f1b"><text x="453" y="2876.7">感じる</text></g>
<g id="f1b1"><text x="497.6" y="2876.7">プラスなのか、マイナスなのか</text></g>
<g id="f1c"><text x="453" y="2892.7">ちゃんと反応する</text></g>
<g id="f1c1"><text x="535.9" y="2892.7">プラスの反応orマイナスの反応</text></g>
<g id="f1d"><text x="453" y="2909">反応してほしいところは何処かを感じる</text></g>
<g id="f1e"><text x="453" y="2925">こちらの聞きたい方向に誘導しない</text></g>
<g id="f1f"><text x="453" y="2941">オウム返しに感情的なニュアンスを込める</text></g>
<g id="f1g"><text x="453" y="2956.7">「返事のバリエーション」を書き出す</text></g>
<g id="f2"><text x="402" y="2981">第二章</text></g>
<g id="f2a"><text x="453" y="2981">ワークをする</text></g>
<g id="f2a1"><text x="520" y="2981">一週間で感じた気持ちを書き出す</text></g>
<g id="f2a1a"><text x="666.6" y="2969">それに紐づくエピソードを書き出す</text></g>
<g id="f2a1b"><text x="668" y="2989">丁寧に話すつもりで</text></g>
<g id="f2a1b1"><text x="761" y="2989">視点を緻密に持つ</text></g>
</g>
</svg>
